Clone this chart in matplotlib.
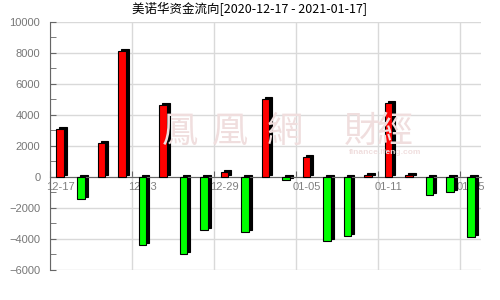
import matplotlib
matplotlib.use('Agg')
import numpy as np
import matplotlib.pyplot as plt
import matplotlib.transforms as mtransforms

# data (unit: 万元)
dates = ['12-17', '12-18', '12-21', '12-22', '12-23', '12-24', '12-25', '12-28',
         '12-29', '12-30', '12-31', '01-04', '01-05', '01-06', '01-07', '01-08',
         '01-11', '01-12', '01-13', '01-14', '01-15']
flows = [3100, -1400, 2200, 8100, -4400, 4650, -5000, -3400,
         300, -3550, 5000, -200, 1300, -4100, -3800, 100,
         4750, 150, -1200, -1000, -3900]
tick_labels = ['12-17', '12-23', '12-29', '01-05', '01-11', '01-15']
tick_idx = [0, 4, 8, 12, 16, 20]
title = '美诺华资金流向[2020-12-17 - 2021-01-17]'

plt.rcParams['font.family'] = ['Noto Sans CJK SC', 'DejaVu Sans']

fig = plt.figure(figsize=(5, 3), dpi=100)
ax = fig.add_axes([0.1, 0.1, 0.862, 0.828])

x = np.arange(len(flows))
colors = ['#ff0000' if v >= 0 else '#00ff00' for v in flows]

# 3d-ish shadow: same bars shifted right and up a few pixels
shift = mtransforms.ScaledTranslation(3 / 100, 2 / 100, fig.dpi_scale_trans)
ax.bar(x, flows, width=0.37, color='black', edgecolor='black', linewidth=0.8,
       transform=ax.transData + shift, zorder=3)
ax.bar(x, flows, width=0.37, color=colors, edgecolor='black', linewidth=0.8, zorder=4)

ax.set_xlim(-0.5, 20.5)
ax.set_ylim(-6000, 10000)
ax.set_yticks(np.arange(-6000, 10001, 2000))
ax.set_yticks(np.arange(-6000, 10001, 1000), minor=True)
ax.set_xticks(np.array(tick_idx) - 0.5)
ax.set_xticklabels([])
ax.set_xticks(tick_idx, tick_labels, minor=True)

ax.set_axisbelow(True)
ax.grid(True, which='major', color='#d9d9d9', linewidth=1)
for s in ['top', 'right']:
    ax.spines[s].set_visible(False)
ax.spines['bottom'].set_position(('data', 0))
ax.spines['bottom'].set_color('#666666')
ax.spines['bottom'].set_zorder(3.5)
ax.spines['left'].set_color('#666666')

ax.tick_params(axis='y', which='both', direction='in', length=4, color='#666666',
               labelcolor='#777777', labelsize=8, pad=7)
ax.tick_params(axis='x', which='major', direction='in', length=4, color='#666666')
ax.tick_params(axis='x', which='minor', length=0, labelcolor='#808080', labelsize=8, pad=4)
for lab in ax.get_yticklabels() + ax.get_xticklabels(minor=True):
    lab.set_family(['Liberation Sans', 'DejaVu Sans'])

# faint watermark
wm = '#f0dede'
for ch, cx in [('鳳', 180), ('凰', 230), ('網', 285), ('財', 362), ('經', 395)]:
    fig.text(cx / 500, 1 - 132 / 300, ch, fontsize=26, color=wm, ha='center',
             va='center', family=['Noto Sans CJK TC'], zorder=1)
fig.text(385 / 500, 1 - 152 / 300, 'finance.ifeng.com', fontsize=6, color=wm,
         ha='center', va='center', family=['Liberation Sans'], weight='bold')

fig.text(0.5, 1 - 9 / 300, title, fontsize=9, ha='center', va='center')

fig.savefig('out.png', dpi=100)
